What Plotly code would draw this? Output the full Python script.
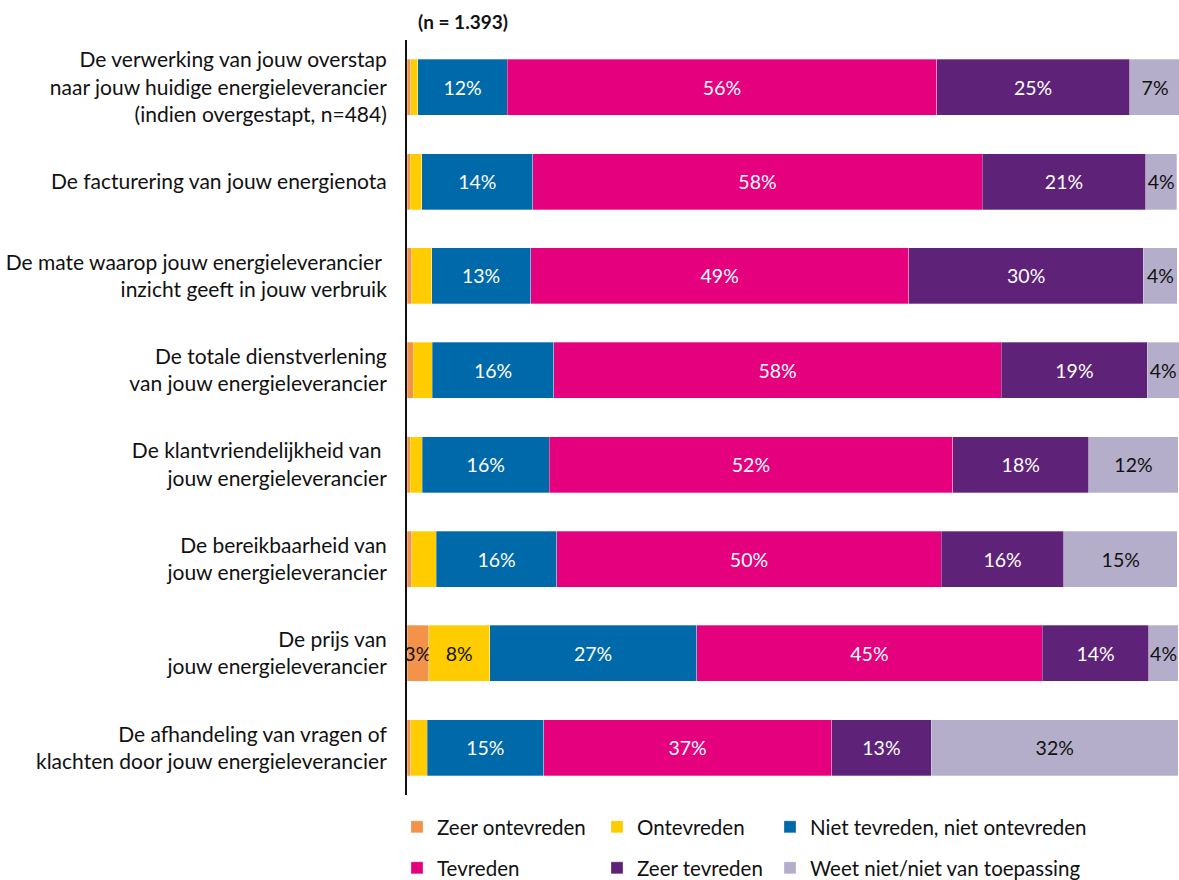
import plotly.graph_objects as go

categories = [
    "De verwerking van jouw overstap<br>naar jouw huidige energieleverancier<br>(indien overgestapt, n=484)",
    "De facturering van jouw energienota",
    "De mate waarop jouw energieleverancier <br>inzicht geeft in jouw verbruik",
    "De totale dienstverlening<br>van jouw energieleverancier",
    "De klantvriendelijkheid van <br>jouw energieleverancier",
    "De bereikbaarheid van<br>jouw energieleverancier",
    "De prijs van<br>jouw energieleverancier",
    "De afhandeling van vragen of<br>klachten door jouw energieleverancier",
]

series_names = [
    "Zeer ontevreden",
    "Ontevreden",
    "Niet tevreden, niet ontevreden",
    "Tevreden",
    "Zeer tevreden",
    "Weet niet/niet van toepassing",
]

zeer_ontevreden = [0.5, 0.4, 0.6, 0.8, 0.4, 0.6, 2.8, 0.5]
ontevreden      = [0.9, 1.5, 2.6, 2.5, 1.6, 3.2, 7.9, 2.1]
neutraal        = [11.6, 14.4, 12.8, 15.7, 16.4, 15.6, 26.8, 15.1]
tevreden        = [55.6, 58.2, 49.0, 58.0, 52.3, 49.8, 44.8, 37.3]
zeer_tevreden   = [25.0, 21.2, 30.4, 18.9, 17.6, 15.9, 13.8, 12.9]
weet_niet       = [6.6, 4.0, 4.4, 4.1, 11.6, 14.7, 3.8, 32.0]

series_values = [zeer_ontevreden, ontevreden, neutraal, tevreden, zeer_tevreden, weet_niet]
colors = ["#F39349", "#FFCC00", "#0069AA", "#E5007D", "#5E2378", "#B4AECB"]
text_colors = ["#111111", "#111111", "white", "white", "white", "#111111"]

# labels for small segments are only shown on the price row
show_small_rows = {6}

FONT = "Lato, 'Noto Sans', sans-serif"

fig = go.Figure()

# legend positions (container px): column x, row y
legend_pos = [(397, 827), (597, 827), (770, 827), (397, 868), (597, 868), (770, 868)]

for i, (name, vals) in enumerate(zip(series_names, series_values)):
    texts = []
    for r, v in enumerate(vals):
        if v >= 3.5 or (r in show_small_rows and v >= 2.5):
            texts.append(f"{v:.0f}%")
        else:
            texts.append("")
    lg = "legend" if i == 0 else f"legend{i+1}"
    fig.add_trace(go.Bar(
        y=categories, x=vals, name=name, orientation="h",
        marker=dict(color=colors[i], line=dict(color="rgba(255,255,255,0.6)", width=0.5)),
        text=texts, textposition="inside", insidetextanchor="middle",
        textangle=0, constraintext="none",
        textfont=dict(color=text_colors[i], size=19.5, family=FONT),
        width=0.594, legend=lg, hoverinfo="x+name",
    ))

layout_legends = {}
for i, (lx, ly) in enumerate(legend_pos):
    key = "legend" if i == 0 else f"legend{i+1}"
    layout_legends[key] = dict(
        xref="container", yref="container",
        x=lx / 1179, y=1 - ly / 880, xanchor="left", yanchor="middle",
        font=dict(size=20.5, family=FONT, color="#111111"),
        bgcolor="rgba(0,0,0,0)", itemwidth=30,
    )

fig.update_layout(
    barmode="stack",
    width=1179, height=880,
    margin=dict(l=407, r=0, t=40, b=85, autoexpand=False),
    plot_bgcolor="white", paper_bgcolor="white",
    font=dict(family=FONT, size=20.5, color="#111111"),
    showlegend=True,
    xaxis=dict(range=[0, 100], visible=False, fixedrange=True),
    yaxis=dict(autorange="reversed", showline=True, linecolor="#111111", linewidth=2,
               ticks="", showgrid=False, ticklabelstandoff=14, automargin=False,
               tickfont=dict(size=21, family=FONT, color="#111111")),
    uniformtext=dict(minsize=19, mode="show"),
    **layout_legends,
)

fig.add_annotation(
    text="<b>(n = 1.393)</b>", xref="paper", yref="paper",
    x=(416 - 407) / 772, y=(795 - 22) / 755, xanchor="left", yanchor="middle",
    showarrow=False, font=dict(size=19, family=FONT, color="#111111"),
)

fig.write_html(
    "out.html",
    config={"displayModeBar": False},
    post_script="document.body.style.margin='0';document.body.style.overflow='hidden';",
)
